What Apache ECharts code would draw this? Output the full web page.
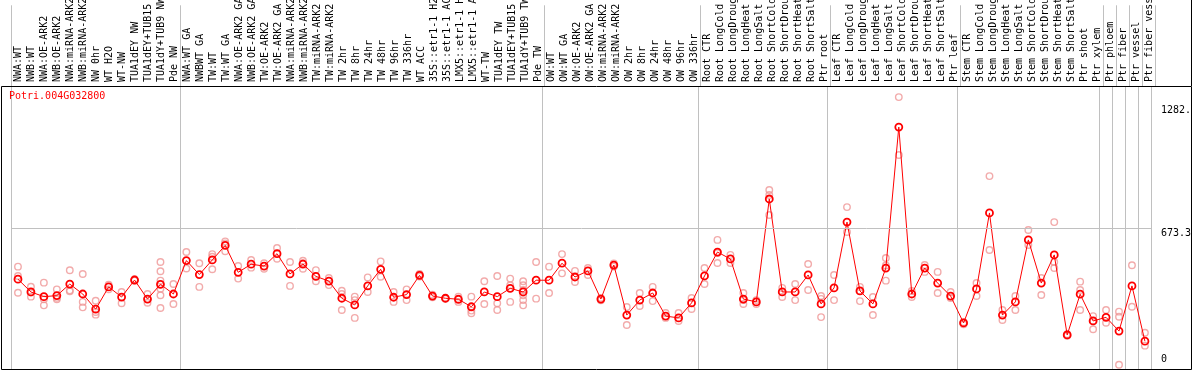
<!DOCTYPE html>
<html>
<head>
<meta charset="utf-8">
<script src="https://cdn.jsdelivr.net/npm/echarts@6/dist/echarts.min.js"></script>
<style>
html,body{margin:0;padding:0;background:#fff;}
#chart{width:1194px;height:370px;}
</style>
</head>
<body>
<div id="chart"></div>
<script>
const geneName = 'Potri.004G032800';

const categories = [
"NWA:WT","NWB:WT","NWA:OE-ARK2","NWB:OE-ARK2","NWA:miRNA-ARK2","NWB:miRNA-ARK2","NW 0hr","WT H2O","WT-NW","TUA1dEY NW","TUA1dEY+TUB15","TUA1dY+TUB9 NW","Pde NW",
"NWA:WT GA","NWBWT GA","TW:WT","TW:WT GA","NWA:OE-ARK2 GA","NWB:OE-ARK2 GA","TW:OE-ARK2","TW:OE-ARK2 GA","NWA:miRNA-ARK2","NWB:miRNA-ARK2","TW:miRNA-ARK2","TW:miRNA-ARK2","TW 2hr","TW 8hr","TW 24hr","TW 48hr","TW 96hr","TW 336hr","WT ACC","35S::etr1-1 H2","35S::etr1-1 AC","LMX5::etr1-1 H","LMX5::etr1-1 A","WT-TW","TUA1dEY TW","TUA1dEY+TUB15","TUA1dY+TUB9 TW","Pde TW",
"OW:WT","OW:WT GA","OW:OE-ARK2","OW:OE-ARK2 GA","OW:miRNA-ARK2","OW:miRNA-ARK2","OW 2hr","OW 8hr","OW 24hr","OW 48hr","OW 96hr","OW 336hr",
"Root CTR","Root LongCold","Root LongDroug","Root LongHeat","Root LongSalt","Root ShortCold","Root ShortDrou","Root ShortHeat","Root ShortSalt","Ptr root",
"Leaf CTR","Leaf LongCold","Leaf LongDroug","Leaf LongHeat","Leaf LongSalt","Leaf ShortCold","Leaf ShortDrou","Leaf ShortHeat","Leaf ShortSalt","Ptr leaf",
"Stem CTR","Stem LongCold","Stem LongDroug","Stem LongHeat","Stem LongSalt","Stem ShortCold","Stem ShortDrou","Stem ShortHeat","Stem ShortSalt","Ptr shoot","Ptr xylem",
"Ptr phloem","Ptr fiber","Ptr vessel","Ptr fiber vess"
];

// index of first category of each group (separator lines drawn before these)
const groupStarts = [0, 13, 41, 53, 63, 73, 84, 85, 86, 87];

// mean expression per category
const means = [
422, 359, 336, 341, 398, 349, 274, 384, 334, 418, 324, 397, 349,
514, 445, 517, 589, 456, 496, 487, 548, 448, 497, 436, 413, 328, 295, 389, 471, 333, 346, 441, 339, 328, 323, 286, 359, 336, 377, 359, 417,
417, 501, 433, 463, 324, 492, 245, 319, 354, 240, 231, 305,
438, 556, 522, 324, 310, 818, 359, 359, 443, 300,
379, 704, 364, 300, 477, 1173, 349, 477, 403, 339,
206, 374, 749, 245, 310, 616, 403, 542, 147, 348, 216,
234, 166, 389, 116
];

// replicate values per category
const replicates = [
[484,438,355],[385,336,356],[405,323,293],[372,323,330],[466,362,367],[448,310,283],[316,260,247],[395,372],[359,303],[422,415],[349,306],[507,461,415,375,343,280],[398,300],
[556,475],[501,384],[546,533,471],[609,599,560],[487,425],[517,479],[501,474],[576,523],[507,389],[513,474],[467,412],[428,393],[365,349,270],[336,319,231],[431,359],[510,434],[359,310],[372,319],[448,435],[345,333],[330,325],[336,310],[336,267,254],[412,300],[438,303,270],[425,392,310],[412,392,369,343,319,293],[507,326],
[484,354],[546,451],[463,408],[477,443],[330,318],[500,485],[285,196],[354,290],[384,314],[255,231],[255,216],[329,275],
[477,398],[616,551,502],[542,502],[354,300,319],[319,300],[862,838,739],[379,334],[398,319],[497,369],[339,235,325],
[443,319],[778,655],[384,314,363],[334,245],[527,490,415],[1321,1035],[364,334],[492,458],[458,354],[359,329],
[210,200],[403,339],[931,566],[270,221],[339,270],[665,591],[428,344],[704,507,477],[150,143],[410,369,270],[240,175,216],
[270,207],[262,237,0],[491,286],[158,94]
];

const yTickValues = [0, 673.3, 1282];
const yTickLabels = ['0', '673.3', '1282.'];
const gridLineValue = 673.3;
const yMin = -21.2, yMax = 1375.7;

const mono = "'DejaVu Sans Mono', 'Liberation Mono', monospace";
const labelFor = v => { const k = yTickValues.findIndex(t => Math.abs(t - v) < 1e-6); return k >= 0 ? yTickLabels[k] : ''; };
const isBoundary = (idx) => groupStarts.indexOf(idx) >= 0;

const repData = [];
replicates.forEach((arr, i) => arr.forEach(v => repData.push([i, v])));

const chart = echarts.init(document.getElementById('chart'), null, {renderer: 'canvas'});
const sepLine = {show: true, interval: isBoundary, lineStyle: {color: '#c0c0c0', width: 1}};
const yLabelBase = {margin: 9.5, align: 'left', fontSize: 10, fontFamily: mono, color: '#000', formatter: labelFor};

chart.setOption({
  animation: false,
  title: {text: geneName, left: 9, top: 91, padding: 0,
    textStyle: {color: '#ff0000', fontSize: 10, fontWeight: 'normal', fontFamily: mono}},
  grid: [
    {left: 11.5, width: 1144, top: 0, height: 86},
    {left: 11.5, width: 1144, top: 86, height: 283}
  ],
  xAxis: [
    {gridIndex: 0, type: 'category', data: categories, position: 'bottom', boundaryGap: true,
      axisLine: {show: false}, axisTick: {show: false},
      axisLabel: {inside: true, rotate: 90, interval: 0, margin: 4, fontSize: 10, fontFamily: mono, color: '#000'},
      splitLine: sepLine},
    {gridIndex: 1, type: 'category', data: categories, position: 'top', boundaryGap: true,
      axisLine: {show: false}, axisTick: {show: false}, axisLabel: {show: false},
      splitLine: sepLine}
  ],
  yAxis: [
    {gridIndex: 0, type: 'value', show: false},
    {gridIndex: 1, type: 'value', min: yMin, max: yMax, position: 'right',
      axisLine: {show: false}, axisTick: {show: false}, splitLine: {show: false},
      axisLabel: Object.assign({}, yLabelBase, {customValues: [yTickValues[1], yTickValues[2]], verticalAlign: 'top'})},
    {gridIndex: 1, type: 'value', min: yMin, max: yMax, position: 'right',
      axisLine: {show: false}, axisTick: {show: false}, splitLine: {show: false},
      axisLabel: Object.assign({}, yLabelBase, {customValues: [yTickValues[0]], verticalAlign: 'bottom'})}
  ],
  graphic: [
    {type: 'rect', z: 100, shape: {x: 1.5, y: 86.5, width: 1190, height: 283},
      style: {fill: null, stroke: '#000', lineWidth: 1}},
    {type: 'line', z: 100, shape: {x1: 1191.5, y1: 0, x2: 1191.5, y2: 86},
      style: {stroke: '#000', lineWidth: 1}}
  ],
  series: [
    {type: 'scatter', xAxisIndex: 1, yAxisIndex: 1, data: repData, z: 2,
      symbol: 'circle', symbolSize: 6.5,
      itemStyle: {color: 'rgba(255,255,255,0)', borderColor: '#ef9696', borderWidth: 1.4},
      markLine: {silent: true, symbol: ['none', 'none'], label: {show: false},
        lineStyle: {color: '#c0c0c0', type: 'solid', width: 1},
        data: [{yAxis: gridLineValue}]}},
    {type: 'line', xAxisIndex: 1, yAxisIndex: 1, data: means, z: 3,
      symbol: 'circle', symbolSize: 7,
      lineStyle: {color: '#ff0000', width: 1},
      itemStyle: {color: 'rgba(255,255,255,0)', borderColor: '#ff0000', borderWidth: 1.8}}
  ]
});
</script>
</body>
</html>
